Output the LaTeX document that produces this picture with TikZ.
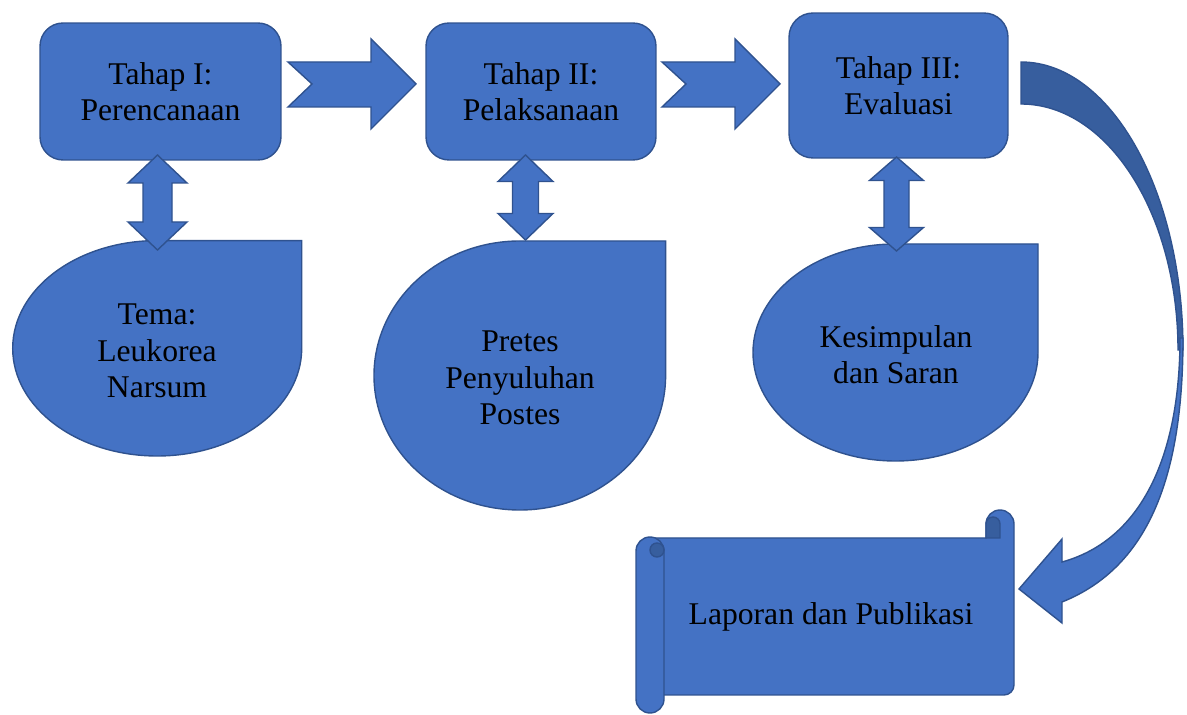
\documentclass[tikz,border=0pt]{standalone}
\usepackage{fontspec}
\setmainfont{Liberation Serif}
\definecolor{ofill}{HTML}{4472C4}
\definecolor{oline}{HTML}{2F528F}
\definecolor{odark}{HTML}{375E9E}
\tikzset{
  blk/.style={fill=ofill, draw=oline, line width=0.8pt, line join=miter},
  stagebox/.style={blk, rounded corners=0.46cm, inner sep=0pt, align=center,
     font=\fontsize{18}{20.7}\selectfont, text=black},
  txt/.style={inner sep=0pt, align=center, font=\fontsize{18}{20.7}\selectfont, text=black}
}
% teardrop: centre x, centre y, x radius, y radius (pixel units)
\newcommand\tearshape[4]{\path[blk] (#1,{#2-#4}) -- ({#1+#3},{#2-#4}) -- ({#1+#3},#2)
   arc[start angle=0,end angle=270,x radius=#3,y radius=#4] -- cycle;}
% vertical double block arrow: centre x, top tip, bottom tip, head half width, shaft half width, head length
\newcommand\dblarr[6]{\path[blk] (#1,#2) -- ({#1+#4},{#2+#6}) -- ({#1+#5},{#2+#6}) -- ({#1+#5},{#3-#6})
   -- ({#1+#4},{#3-#6}) -- (#1,#3) -- ({#1-#4},{#3-#6}) -- ({#1-#5},{#3-#6}) -- ({#1-#5},{#2+#6})
   -- ({#1-#4},{#2+#6}) -- cycle;}
\begin{document}
\begin{tikzpicture}[x=0.02cm,y=-0.02cm]
\useasboundingbox (0,0) rectangle (1187,715);

% stage boxes
\node[stagebox, minimum width=4.82cm, minimum height=2.74cm] (b1) at (160.5,91.5) {Tahap I:\\Perencanaan};
\node[stagebox, minimum width=4.6cm, minimum height=2.74cm] (b2) at (541,91.5) {Tahap II:\\Pelaksanaan};
\node[stagebox, minimum width=4.38cm, minimum height=2.9cm, rounded corners=0.48cm] (b3) at (898.5,85.5) {Tahap III:\\Evaluasi};

% notched right arrows
\path[blk] (288,62) -- (371,62) -- (371,39) -- (416,84) -- (371,129) -- (371,107) -- (288,107) -- (312,84) -- cycle;
\path[blk] (662,62) -- (735,62) -- (735,39) -- (780,84) -- (735,129) -- (735,107) -- (662,107) -- (686,84) -- cycle;

% teardrops
\tearshape{157.2}{348.3}{144.5}{107.7}
\tearshape{519.8}{375.5}{145.8}{134.5}
\tearshape{895.5}{352.5}{142.5}{108.5}

% double arrows
\dblarr{157.5}{155}{250}{29.5}{14.5}{28}
\dblarr{525.5}{155}{240}{27.5}{13}{26.5}
\dblarr{896.5}{157}{251}{27}{12.5}{23.5}

% teardrop texts
\node[txt] (t1) at (157,351) {Tema:\\Leukorea\\Narsum};
\node[txt] (t2) at (520,378) {Pretes\\Penyuluhan\\Postes};
\node[txt] (t3) at (896,355) {Kesimpulan\\dan Saran};

% curved arrow: back (dark) part
\path[blk, fill=odark] (1021,62) .. controls (1110.5,62) and (1183,190.9) .. (1183,350)
   -- (1178,350) .. controls (1178,214.1) and (1107.7,104) .. (1021,104) -- cycle;
% curved arrow: front part with head
\path[blk] (1183,338) .. controls (1183,470) and (1152,566) .. (1062,602)
   -- (1062,623) -- (1019,589) -- (1062,539) -- (1062,562)
   .. controls (1142,540) and (1180,455) .. (1180,338) -- cycle;

% horizontal scroll
\path[blk] (650,538) -- (986,538) -- (986,524) arc[start angle=180,end angle=360,radius=14]
   -- (1014,685) arc[start angle=0,end angle=90,radius=10] -- (650,695) -- cycle;
\path[fill=odark, draw=oline, line width=0.8pt] (986,538) -- (986,524)
   arc[start angle=180,end angle=360,radius=7] -- (1000,538) -- cycle;
\path[blk] (636,551) arc[start angle=180,end angle=360,radius=14] -- (664,699)
   arc[start angle=0,end angle=180,radius=14] -- cycle;
\path[fill=odark, draw=oline, line width=0.8pt] (657,550) circle[radius=7];
\node[txt] (lap) at (831,617) {Laporan dan Publikasi};
\end{tikzpicture}
\end{document}
